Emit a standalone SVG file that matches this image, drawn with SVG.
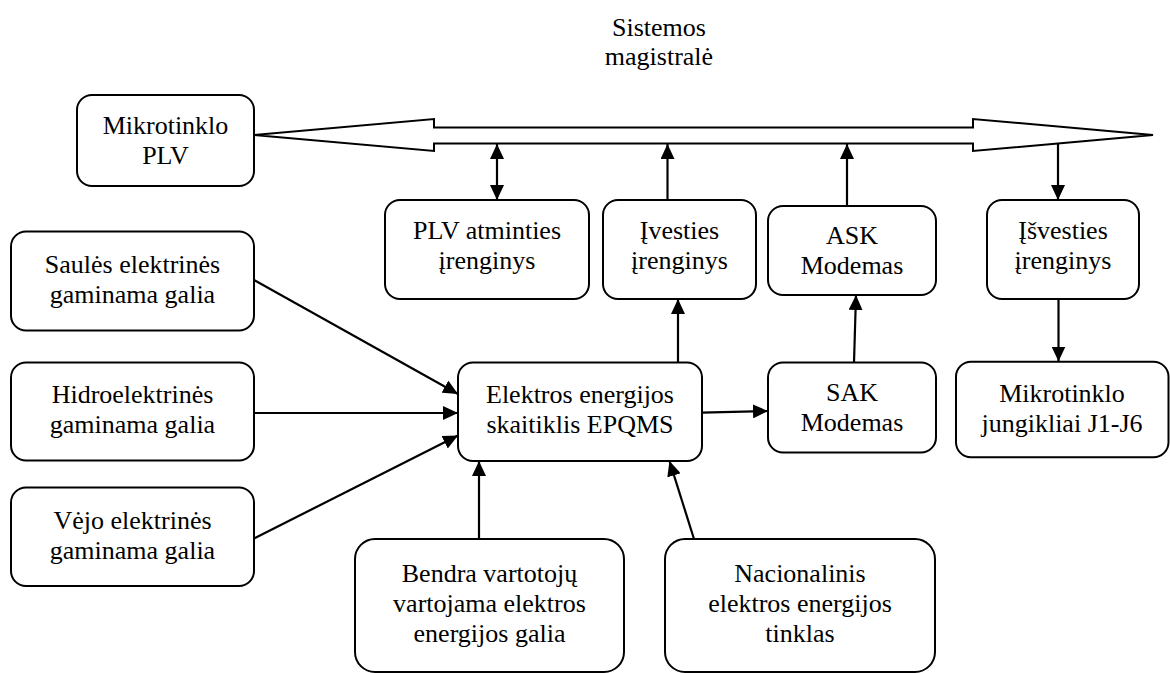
<svg xmlns="http://www.w3.org/2000/svg" width="1170" height="673" viewBox="0 0 1170 673" font-family="'Liberation Serif', 'Times New Roman', serif">
<style>
.box{fill:#fff;stroke:#000;stroke-width:2}
.t{font-size:26px;fill:#000;text-anchor:middle}
.c{fill:none;stroke:#000;stroke-width:2.2;marker-end:url(#ah)}
.bus{fill:#fff;stroke:#000;stroke-width:2;stroke-linejoin:miter}
</style>
<defs>
<marker id="ah" viewBox="0 0 15 14" refX="15" refY="7" markerWidth="15" markerHeight="14" markerUnits="userSpaceOnUse" orient="auto-start-reverse">
<path d="M0,0 L15,7 L0,14 z" fill="#000"/>
</marker>
</defs>
<rect width="1170" height="673" fill="#fff"/>
<g id="bus">
<polygon class="bus" points="254,135 434,119 434,127.5 973,127.5 973,119 1153,135 973,151 973,143.5 434,143.5 434,151"/>
<text class="t" x="659" y="36">Sistemos</text>
<text class="t" x="659" y="65">magistralė</text>
</g>
<g id="connectors">
<line class="c" x1="497" y1="144" x2="497" y2="200" style="marker-start:url(#ah)"/>
<line class="c" x1="667.5" y1="200" x2="667.5" y2="144"/>
<line class="c" x1="847" y1="206" x2="847" y2="144"/>
<line class="c" x1="1058" y1="144" x2="1058" y2="200"/>
<line class="c" x1="1058.5" y1="299" x2="1058.5" y2="361.5"/>
<line class="c" x1="678" y1="362.5" x2="678" y2="299"/>
<line class="c" x1="854" y1="362.5" x2="856" y2="295"/>
<line class="c" x1="702" y1="412.7" x2="768" y2="411"/>
<line class="c" x1="254" y1="280" x2="458" y2="394"/>
<line class="c" x1="254" y1="413" x2="458" y2="413"/>
<line class="c" x1="254" y1="538.5" x2="458" y2="435.5"/>
<line class="c" x1="479" y1="539" x2="479" y2="461"/>
<line class="c" x1="694" y1="539" x2="669.5" y2="461"/>
</g>
<g id="mikrotinklo-plv">
<rect class="box" x="77" y="95" width="177" height="91" rx="15"/>
<text class="t" x="165.5" y="134">Mikrotinklo</text>
<text class="t" x="165.5" y="164">PLV</text>
</g>
<g id="plv-atmintis">
<rect class="box" x="385" y="200" width="204" height="99" rx="15"/>
<text class="t" x="487" y="239">PLV atminties</text>
<text class="t" x="487" y="269">įrenginys</text>
</g>
<g id="ivesties">
<rect class="box" x="603" y="200" width="153" height="99" rx="15"/>
<text class="t" x="679.5" y="239">Įvesties</text>
<text class="t" x="679.5" y="269">įrenginys</text>
</g>
<g id="ask">
<rect class="box" x="768" y="206" width="168" height="89" rx="15"/>
<text class="t" x="852" y="244">ASK</text>
<text class="t" x="852" y="274">Modemas</text>
</g>
<g id="isvesties">
<rect class="box" x="987" y="200" width="152" height="99" rx="15"/>
<text class="t" x="1063" y="239">Įšvesties</text>
<text class="t" x="1063" y="269">įrenginys</text>
</g>
<g id="saules">
<rect class="box" x="11" y="231.5" width="243" height="99" rx="15"/>
<text class="t" x="132.5" y="273">Saulės elektrinės</text>
<text class="t" x="132.5" y="303">gaminama galia</text>
</g>
<g id="hidro">
<rect class="box" x="11" y="362.5" width="243" height="98" rx="15"/>
<text class="t" x="132.5" y="403">Hidroelektrinės</text>
<text class="t" x="132.5" y="433">gaminama galia</text>
</g>
<g id="vejo">
<rect class="box" x="11" y="487.5" width="243" height="98.5" rx="15"/>
<text class="t" x="132.5" y="528.5">Vėjo elektrinės</text>
<text class="t" x="132.5" y="558.5">gaminama galia</text>
</g>
<g id="epqms">
<rect class="box" x="458" y="362.5" width="244" height="98.5" rx="15"/>
<text class="t" x="580" y="403">Elektros energijos</text>
<text class="t" x="580" y="433">skaitiklis EPQMS</text>
</g>
<g id="sak">
<rect class="box" x="768" y="362.5" width="168" height="90" rx="15"/>
<text class="t" x="852" y="401">SAK</text>
<text class="t" x="852" y="431">Modemas</text>
</g>
<g id="jungikliai">
<rect class="box" x="956" y="361.7" width="212.5" height="95.6" rx="15"/>
<text class="t" x="1062" y="401.5">Mikrotinklo</text>
<text class="t" x="1062" y="431.5">jungikliai J1-J6</text>
</g>
<g id="bendra">
<rect class="box" x="355" y="539" width="269" height="133" rx="20"/>
<text class="t" x="489.5" y="581.7">Bendra vartotojų</text>
<text class="t" x="489.5" y="611.7">vartojama elektros</text>
<text class="t" x="489.5" y="641.7">energijos galia</text>
</g>
<g id="nacionalinis">
<rect class="box" x="665" y="539" width="270" height="133" rx="20"/>
<text class="t" x="800" y="581.7">Nacionalinis</text>
<text class="t" x="800" y="611.7">elektros energijos</text>
<text class="t" x="800" y="641.7">tinklas</text>
</g>
</svg>
